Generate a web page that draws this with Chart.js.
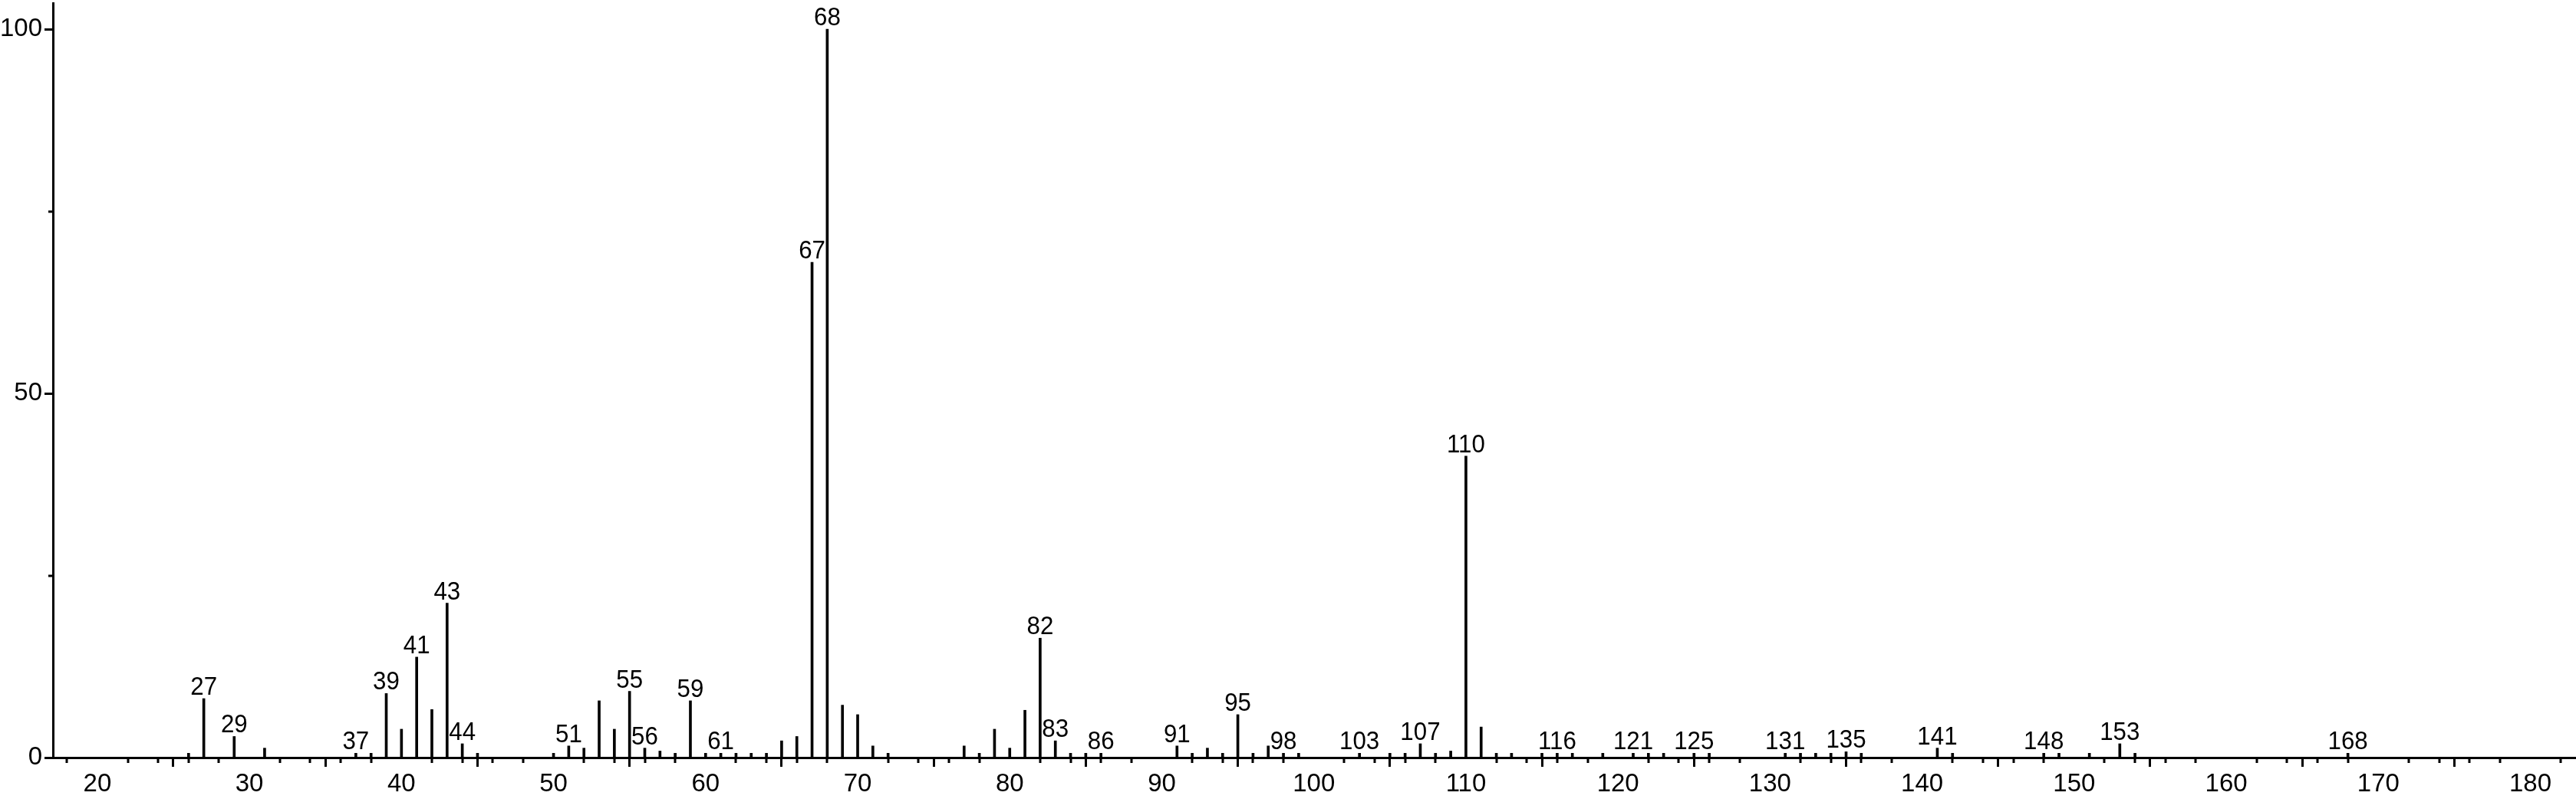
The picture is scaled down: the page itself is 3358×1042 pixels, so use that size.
<!DOCTYPE html>
<html>
<head>
<meta charset="utf-8">
<script src="https://cdn.jsdelivr.net/npm/chart.js@4.4.1/dist/chart.umd.min.js"></script>
<style>
  html, body { margin: 0; padding: 0; background: #fff; }
  #wrap { width: 3358px; height: 1042px; }
</style>
</head>
<body>
<div id="wrap"><canvas id="spectrum"></canvas></div>
<script>
// m/z values and relative intensities
const mz = [26, 27, 29, 31, 37, 38, 39, 40, 41, 42, 43, 44, 45,
  50, 51, 52, 53, 54, 55, 56, 57, 58, 59, 60, 61, 62, 63, 64, 65, 66, 67, 68, 69, 70, 71, 72,
  77, 78, 79, 80, 81, 82, 83, 84, 85, 86, 91, 92, 93, 94, 95, 96, 97, 98, 99,
  103, 105, 106, 107, 108, 109, 110, 111, 112, 113, 115, 116, 117, 119,
  121, 122, 123, 125, 126, 131, 132, 133, 134, 135, 136, 141, 142,
  148, 149, 151, 153, 154, 168];
const intensity = [0.6, 8.1, 2.9, 1.3, 0.6, 0.6, 8.8, 3.9, 13.8, 6.6, 21.2, 1.9, 0.6,
  0.6, 1.6, 1.3, 7.8, 3.9, 9.1, 1.3, 0.9, 0.6, 7.8, 0.6, 0.6, 0.6, 0.6, 0.6, 2.3, 2.9, 68.0, 100, 7.2, 5.9, 1.6, 0.6,
  1.6, 0.6, 3.9, 1.3, 6.5, 16.4, 2.3, 0.6, 0.6, 0.6, 1.6, 0.6, 1.3, 0.6, 5.9, 0.6, 1.6, 0.6, 0.6,
  0.6, 0.6, 0.6, 1.9, 0.6, 0.9, 41.4, 4.2, 0.6, 0.6, 0.6, 0.6, 0.6, 0.6,
  0.6, 0.6, 0.6, 0.6, 0.6, 0.6, 0.6, 0.6, 0.6, 0.8, 0.6, 1.3, 0.6,
  0.6, 0.6, 0.6, 1.9, 0.6, 0.6];

// peaks that carry their m/z as a label
const labelled = [27, 29, 37, 39, 41, 43, 44, 51, 55, 56, 59, 61, 67, 68, 82, 83, 86,
  91, 95, 98, 103, 107, 110, 116, 121, 125, 131, 135, 141, 148, 153, 168];

const xTicks = [20, 30, 40, 50, 60, 70, 80, 90, 100, 110, 120, 130, 140, 150, 160, 170, 180];
const xMinorTicks = [18, 22, 24, 26, 28, 32, 34, 36, 38, 42, 44, 46, 48, 52, 54, 56, 58,
  62, 64, 66, 68, 72, 74, 76, 78, 82, 84, 86, 88, 92, 94, 96, 98, 102, 104, 106, 108,
  112, 114, 116, 118, 122, 124, 126, 128, 132, 134, 136, 138, 142, 144, 146, 148,
  152, 154, 156, 158, 162, 164, 166, 168, 172, 174, 176, 178, 182];
const yTicks = [0, 50, 100];
const yMinorTicks = [25, 75];

const FONT = '"Liberation Sans", Arial, sans-serif';

const peakLabels = {
  id: 'peakLabels',
  afterDatasetsDraw(chart) {
    const ctx = chart.ctx;
    const meta = chart.getDatasetMeta(0);
    ctx.save();
    ctx.fillStyle = '#000';
    ctx.font = '34px ' + FONT;
    ctx.textAlign = 'center';
    ctx.textBaseline = 'alphabetic';
    labelled.forEach(m => {
      const bar = meta.data[mz.indexOf(m)];
      ctx.save();
      ctx.translate(bar.x, bar.y - 5);
      ctx.scale(0.92, 1);   // the original lettering is a little narrow
      ctx.fillText(String(m), 0, 0);
      ctx.restore();
    });
    ctx.restore();
  }
};

const minorTicks = {
  id: 'minorTicks',
  afterDraw(chart) {
    const ctx = chart.ctx;
    const xs = chart.scales.x, ys = chart.scales.y;
    const area = chart.chartArea;
    ctx.save();
    ctx.strokeStyle = '#000';
    ctx.lineWidth = 3;
    ctx.beginPath();
    xMinorTicks.forEach(v => {
      const px = Math.round(xs.getPixelForValue(v));
      ctx.moveTo(px, area.bottom);
      ctx.lineTo(px, area.bottom + 7);
    });
    yMinorTicks.forEach(v => {
      const py = Math.round(ys.getPixelForValue(v));
      ctx.moveTo(area.left, py);
      ctx.lineTo(area.left - 6, py);
    });
    ctx.stroke();
    ctx.restore();
  }
};

new Chart(document.getElementById('spectrum'), {
  type: 'bar',
  data: {
    datasets: [{
      data: mz.map((m, i) => ({ x: m, y: intensity[i] })),
      backgroundColor: '#000',
      borderWidth: 0,
      barThickness: 3
    }]
  },
  options: {
    responsive: true,
    maintainAspectRatio: false,
    animation: false,
    layout: { padding: { top: 4, right: 0, bottom: 0, left: 0 } },
    plugins: { legend: { display: false }, tooltip: { enabled: false } },
    scales: {
      x: {
        type: 'linear',
        min: 17.08,
        max: 183.0,
        offset: false,
        afterBuildTicks: s => { s.ticks = xTicks.map(v => ({ value: v })); },
        afterFit: s => { s.height = 54; s.paddingLeft = 0; s.paddingRight = 0; },
        ticks: {
          color: '#000',
          font: { family: FONT, size: 33 },
          padding: 3,
          autoSkip: false,
          maxRotation: 0
        },
        grid: { display: true, drawOnChartArea: false, drawTicks: true, tickLength: 12, tickWidth: 3, tickColor: '#000' },
        border: { display: true, color: '#000', width: 3 }
      },
      y: {
        min: 0,
        max: 103.6,
        afterBuildTicks: s => { s.ticks = yTicks.map(v => ({ value: v })); },
        afterFit: s => { s.width = 69; s.paddingTop = 0; s.paddingBottom = 0; },
        ticks: {
          color: '#000',
          font: { family: FONT, size: 33 },
          padding: 3,
          autoSkip: false
        },
        grid: { display: true, drawOnChartArea: false, drawTicks: true, tickLength: 11, tickWidth: 3, tickColor: '#000' },
        border: { display: true, color: '#000', width: 3 }
      }
    }
  },
  plugins: [peakLabels, minorTicks]
});
</script>
</body>
</html>
